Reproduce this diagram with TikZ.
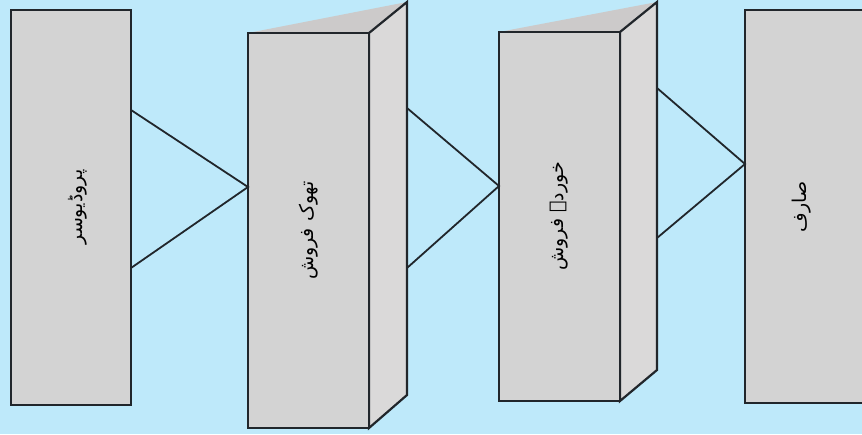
\documentclass[tikz,border=0pt]{standalone}
\usepackage{fontspec}
\newfontfamily\urdu[Script=Arabic]{DejaVu Sans}
\TeXXeTstate=1
\definecolor{bgblue}{RGB}{190,233,250}
\definecolor{facegray}{RGB}{211,211,211}
\definecolor{sidegray}{RGB}{218,217,217}
\definecolor{topgray}{RGB}{204,202,202}
\definecolor{edge}{RGB}{33,38,43}
\tikzset{
  face/.style={draw=edge, fill=facegray, line width=2.2pt, line join=miter},
  sideface/.style={draw=edge, fill=sidegray, line width=2.2pt, line join=miter},
  topface/.style={fill=topgray},
  link/.style={draw=edge, line width=1.8pt},
  lbl/.style={font=\urdu\fontsize{19}{22}\selectfont, rotate=90, inner sep=0pt},
}
\begin{document}
\begin{tikzpicture}[x=1pt,y=-1pt]
\useasboundingbox (0,0) rectangle (862,434);
\fill[bgblue] (0,0) rectangle (862,434);
\begin{scope}
\clip (0,0) rectangle (862,434);
% box 1: producer
\node[face, minimum width=120pt, minimum height=395pt, inner sep=0pt] (prod) at (71,207.5) {};
% box 2: wholesaler
\fill[topface] (248,33) -- (407,2) -- (369,33) -- cycle;
\draw[sideface] (369,33) -- (407,2) -- (407,395) -- (369,428) -- cycle;
\node[face, minimum width=121pt, minimum height=395pt, inner sep=0pt] (whole) at (308.5,230.5) {};
% box 3: retailer
\fill[topface] (499,32) -- (657,2) -- (620,32) -- cycle;
\draw[sideface] (620,32) -- (657,2) -- (657,370) -- (620,401) -- cycle;
\node[face, minimum width=121pt, minimum height=369pt, inner sep=0pt] (retail) at (559.5,216.5) {};
% box 4: consumer
\node[face, minimum width=130pt, minimum height=393pt, inner sep=0pt] (cons) at (810,206.5) {};
\end{scope}
% labels
\node[lbl] (tprod) at (78,207) {\beginR پروڈیوسر\endR};
\node[lbl] (twhole) at (whole.center) {\beginR تھوک فروش\endR};
\node[lbl] (tretail) at (retail.center) {\beginR خوردہ فروش\endR};
\node[lbl] (tcons) at (802,207) {\beginR صارف\endR};
% connector end points
\coordinate (a1) at (131,110);
\coordinate (a2) at (131,268);
\coordinate (at) at (248,187);
\coordinate (b1) at (407,108);
\coordinate (b2) at (407,268);
\coordinate (bt) at (499,186);
\coordinate (c1) at (657,88);
\coordinate (c2) at (657,238);
\coordinate (ct) at (745,164);
\draw[link] (a1) -- (at) -- (a2);
\draw[link] (b1) -- (bt) -- (b2);
\draw[link] (c1) -- (ct) -- (c2);
\end{tikzpicture}
\end{document}
